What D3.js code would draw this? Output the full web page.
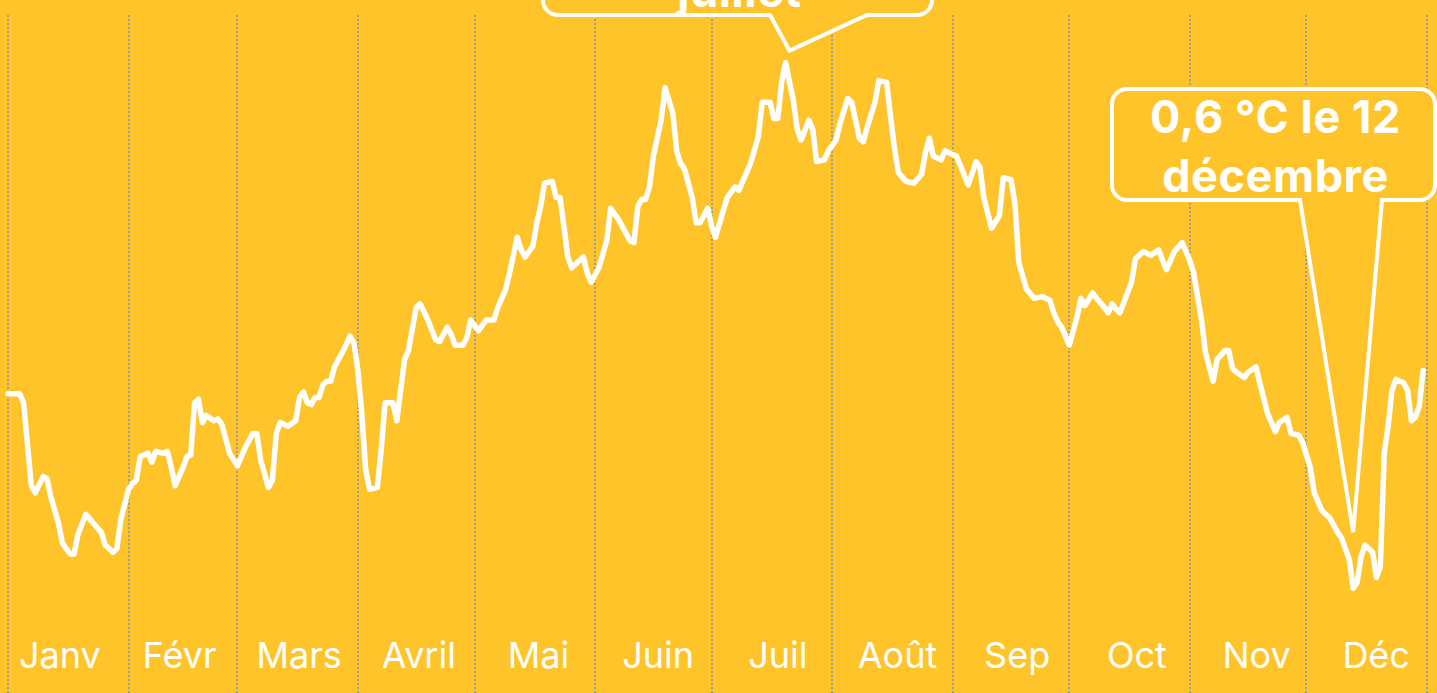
<!DOCTYPE html>
<html>
<head>
<meta charset="utf-8">
<script src="https://cdn.jsdelivr.net/npm/d3@7"></script>
<style>
  html, body { margin: 0; padding: 0; background: #FFC42A; overflow: hidden; }
  svg { display: block; }
</style>
</head>
<body>
<svg id="chart" width="1437" height="693"></svg>
<script>
(function() {
  'use strict';

  // daily mean temperature (day of year, 0 = 1 Jan)
  var days = [
    0, 3, 4, 6, 7, 9, 10, 11, 13, 14, 16, 17, 18, 20, 22, 24, 25, 27, 28, 29,
    31, 32, 33, 34, 35, 36, 37, 38, 40, 41, 42, 43, 45, 46, 47, 48, 49, 50, 51, 53,
    54, 55, 57, 59, 61, 63, 64, 65, 67, 68, 69, 70, 72, 74, 75, 76, 77, 78, 79, 80,
    81, 82, 83, 84, 86, 88, 89, 90, 91, 92, 93, 95, 96, 97, 99, 100, 101, 102, 103, 105,
    106, 108, 110, 111, 113, 114, 115, 117, 118, 119, 121, 123, 125, 126, 128, 129, 131, 132, 133, 135,
    136, 137, 138, 140, 141, 142, 143, 144, 145, 147, 148, 149, 150, 152, 154, 155, 157, 158, 160, 161,
    162, 163, 164, 165, 166, 168, 169, 171, 172, 173, 174, 176, 177, 178, 180, 181, 182, 184, 185, 187,
    188, 190, 191, 193, 194, 196, 197, 198, 199, 200, 202, 203, 204, 206, 207, 208, 210, 211, 213, 214,
    216, 217, 218, 219, 220, 221, 223, 224, 226, 227, 228, 229, 231, 233, 235, 236, 237, 238, 240, 241,
    243, 244, 247, 249, 250, 251, 253, 255, 256, 258, 259, 260, 262, 264, 266, 268, 269, 270, 271, 273,
    275, 276, 277, 279, 280, 282, 283, 284, 285, 286, 289, 290, 292, 294, 296, 297, 298, 300, 302, 304,
    305, 307, 308, 310, 311, 313, 314, 315, 316, 318, 319, 321, 322, 324, 326, 327, 329, 330, 332, 333,
    335, 336, 338, 340, 342, 343, 345, 346, 347, 348, 349, 351, 352, 353, 354, 355, 356, 357, 359, 360,
    361, 362, 363, 364
  ];
  var temps = [
    11.4, 11.4, 10.9, 6.3, 5.9, 6.8, 6.7, 5.7, 4.2, 3.1, 2.5, 2.5, 3.6, 4.7, 4.2, 3.7, 3.0, 2.6, 2.8, 4.4,
    6.1, 6.4, 6.6, 7.9, 8.0, 8.1, 7.6, 8.2, 8.1, 8.2, 7.3, 6.3, 7.3, 7.9, 8.0, 10.9, 11.1, 9.8, 10.2, 9.9,
    10.0, 9.7, 8.1, 7.4, 8.4, 9.2, 9.2, 7.7, 6.2, 6.6, 9.2, 9.8, 9.6, 9.9, 11.2, 11.5, 10.9, 10.8, 11.2, 11.2,
    11.9, 12.1, 12.1, 12.9, 13.7, 14.6, 14.2, 12.7, 10.3, 7.2, 6.1, 6.2, 8.3, 10.9, 10.9, 9.9, 11.6, 13.3, 13.8, 16.2,
    16.4, 15.5, 14.4, 14.3, 15.1, 14.7, 14.1, 14.1, 14.5, 15.5, 14.9, 15.5, 15.5, 16.2, 17.2, 18.1, 20.1, 19.4, 19.0, 19.6,
    20.9, 21.8, 23.1, 23.2, 22.3, 22.3, 20.7, 19.0, 18.4, 18.8, 19.0, 18.1, 17.6, 18.4, 19.9, 21.7, 21.1, 20.7, 19.9, 19.8,
    21.8, 22.2, 22.2, 22.9, 24.6, 26.6, 28.4, 27.0, 24.9, 24.2, 23.9, 22.3, 20.9, 20.9, 21.7, 20.7, 20.1, 21.6, 22.3, 22.9,
    22.7, 23.7, 24.2, 25.7, 27.6, 27.6, 26.7, 26.7, 28.7, 29.8, 27.7, 26.1, 25.5, 26.6, 26.1, 24.3, 24.4, 24.9, 25.5, 26.4,
    27.8, 27.6, 26.6, 25.6, 25.4, 26.2, 27.6, 28.8, 28.7, 26.8, 25.1, 23.7, 23.2, 23.1, 23.6, 24.8, 25.6, 24.6, 24.4, 24.9,
    24.7, 24.6, 23.0, 24.3, 24.0, 22.3, 20.6, 21.3, 23.4, 23.3, 22.0, 18.7, 17.2, 16.7, 16.8, 16.6, 15.9, 15.4, 15.1, 14.1,
    15.7, 16.7, 16.3, 17.0, 16.7, 16.2, 15.9, 16.4, 16.1, 15.9, 17.6, 18.9, 19.3, 19.1, 19.4, 18.8, 18.3, 19.3, 19.8, 18.8,
    18.1, 15.5, 13.7, 12.1, 13.3, 13.8, 13.8, 12.8, 12.6, 12.3, 12.6, 12.9, 12.0, 10.3, 9.3, 9.8, 10.1, 9.2, 9.1, 8.7,
    7.3, 5.9, 4.9, 4.5, 3.7, 3.4, 2.2, 0.6, 0.9, 2.3, 3.0, 2.6, 1.2, 1.8, 8.1, 9.6, 11.6, 12.2, 12.0, 11.6,
    9.9, 10.1, 10.7, 12.7
  ];

  var months = ['Janv', 'Févr', 'Mars', 'Avril', 'Mai', 'Juin', 'Juil', 'Août', 'Sep', 'Oct', 'Nov', 'Déc'];

  // callout texts
  var maxLabel = ['29,8 °C le 19', 'juillet'];
  var minLabel = ['0,6 °C le 12', 'décembre'];

  var width = 1437,
    height = 693,
    bg = '#FFC42A',
    fontFamily = 'Inter, "Noto Sans", sans-serif';

  var start = new Date(Date.UTC(2022, 0, 1)),
    end = new Date(Date.UTC(2023, 0, 1));

  var data = days.map(function(d, i) {
    return { date: d3.utcDay.offset(start, d), value: temps[i] };
  });

  var x = d3.scaleUtc().domain([start, end]).range([8, 1427]);
  var y = d3.scaleLinear().domain([0, 30]).range([599, 59]);
  var band = d3.scaleBand().domain(months).range([0, 1436]);

  var svg = d3.select('#chart');
  svg.append('rect').attr('width', width).attr('height', height).attr('fill', bg);

  // dotted month separators
  svg.append('g')
    .selectAll('line')
    .data(x.ticks(d3.utcMonth.every(1)))
    .join('line')
    .attr('x1', function(d) { return Math.round(x(d)); })
    .attr('x2', function(d) { return Math.round(x(d)); })
    .attr('y1', 15)
    .attr('y2', height)
    .attr('stroke', '#9d9d9d')
    .attr('stroke-width', 2)
    .attr('stroke-dasharray', '2,2');

  // month labels, evenly spaced
  svg.append('g')
    .selectAll('text')
    .data(months)
    .join('text')
    .attr('x', function(d) { return band(d) + band.bandwidth() / 2; })
    .attr('y', 668)
    .attr('text-anchor', 'middle')
    .attr('fill', '#fff')
    .style('font-family', fontFamily)
    .style('font-size', '36px')
    .style('font-weight', 400)
    .text(function(d) { return d; });

  var line = d3.line()
    .x(function(d) { return x(d.date); })
    .y(function(d) { return y(d.value); });

  svg.append('path')
    .datum(data)
    .attr('d', line)
    .attr('fill', 'none')
    .attr('stroke', '#fff')
    .attr('stroke-width', 5.5)
    .attr('stroke-linejoin', 'round')
    .attr('stroke-linecap', 'round');

  // speech-bubble callouts
  var callout = function(box, lines) {
    var p = d3.path(),
      r = 15;
    p.moveTo(box.x0 + r, box.y0);
    p.arcTo(box.x1, box.y0, box.x1, box.y1, r);
    p.arcTo(box.x1, box.y1, box.bx1, box.y1, r);
    p.lineTo(box.bx1, box.y1);
    p.lineTo(box.tx, box.ty);
    p.lineTo(box.bx0, box.y1);
    p.arcTo(box.x0, box.y1, box.x0, box.y0, r);
    p.arcTo(box.x0, box.y0, box.x1, box.y0, r);
    p.closePath();

    var g = svg.append('g');
    g.append('path')
      .attr('d', p.toString())
      .attr('fill', bg)
      .attr('stroke', '#fff')
      .attr('stroke-width', 4)
      .attr('stroke-linejoin', 'miter');

    g.selectAll('text')
      .data(lines)
      .join('text')
      .attr('x', (box.x0 + box.x1) / 2 + 2)
      .attr('y', function(d, i) { return box.y1 - 8 - (lines.length - 1 - i) * 59; })
      .attr('text-anchor', 'middle')
      .attr('fill', '#fff')
      .style('font-family', fontFamily)
      .style('font-size', '45px')
      .style('font-weight', 700)
      .style('letter-spacing', '0.6px')
      .text(function(d) { return d; });
  };

  var iMax = d3.maxIndex(data, function(d) { return d.value; }),
    iMin = d3.minIndex(data, function(d) { return d.value; });
  var pMax = [x(data[iMax].date), y(data[iMax].value)],
    pMin = [x(data[iMin].date), y(data[iMin].value)];

  callout({ x0: 543, x1: 932, y0: -96, y1: 15, bx0: 770, bx1: 867, tx: pMax[0] + 4, ty: pMax[1] - 12 }, maxLabel);
  callout({ x0: 1112, x1: 1435, y0: 89, y1: 200, bx0: 1300, bx1: 1382, tx: pMin[0], ty: pMin[1] - 56 }, minLabel);
}).call(this);
</script>
</body>
</html>
